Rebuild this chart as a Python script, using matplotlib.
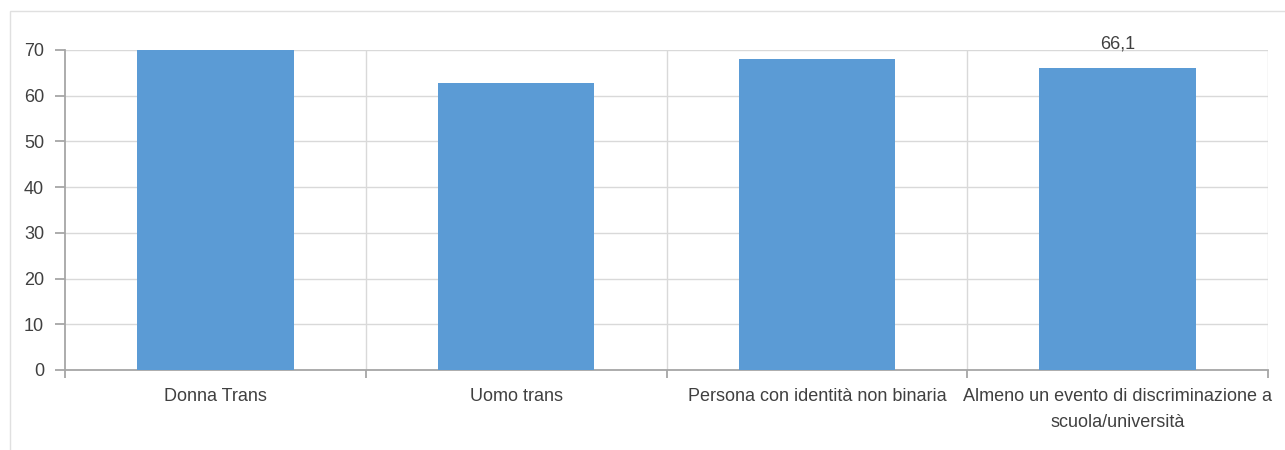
import numpy as np
import matplotlib.pyplot as plt
from matplotlib.patches import Rectangle
from matplotlib.ticker import FixedLocator

categories = ["Donna Trans", "Uomo trans", "Persona con identità non binaria",
              "Almeno un evento di discriminazione a\nscuola/università"]
values = [70.2, 62.8, 68.1, 66.1]
labelled = [False, False, False, True]
yticks = [0, 10, 20, 30, 40, 50, 60, 70]

bar_color = "#5b9bd5"
grid_color = "#d9d9d9"
axis_color = "#a6a6a6"
text_color = "#404040"

plt.rcParams["font.family"] = ["Liberation Sans", "DejaVu Sans"]

fig = plt.figure(figsize=(12.85, 4.5), dpi=100)
W, H = 1285, 450

# light frame round the chart area
fig.patches.append(Rectangle((10 / W, -0.1), 1.1, 1 - 11 / H + 0.1,
                             transform=fig.transFigure, fill=False,
                             edgecolor="#e0e0e0", linewidth=1.0))

ax = fig.add_axes([65 / W, 1 - 370 / H, (1268 - 65) / W, 320 / H])
x = np.arange(len(categories))
bars = ax.bar(x, values, width=0.52, color=bar_color, zorder=3)

ax.set_xlim(-0.5, len(categories) - 0.5)
ax.set_ylim(0, 70)

ax.set_yticks(yticks)
ax.set_yticklabels([str(v) for v in yticks])
ax.set_xticks(x)
ax.set_xticklabels(categories, linespacing=1.7)
ax.xaxis.set_minor_locator(FixedLocator(np.arange(-0.5, len(categories), 1.0)))

ax.grid(axis="y", color=grid_color, linewidth=1.0, zorder=0)
for b in np.arange(0.5, len(categories), 1.0):
    ax.axvline(b, color=grid_color, linewidth=1.0, zorder=0)

for side in ["top", "right"]:
    ax.spines[side].set_visible(False)
for side in ["left", "bottom"]:
    ax.spines[side].set_color(axis_color)
    ax.spines[side].set_linewidth(1.3)

ax.tick_params(axis="y", which="major", length=7, width=1.3, color=axis_color,
               labelsize=13, labelcolor=text_color, pad=8)
ax.tick_params(axis="x", which="major", length=0, labelsize=13,
               labelcolor=text_color, pad=13)
ax.tick_params(axis="x", which="minor", length=6, width=1.3, color=axis_color)

for rect, v, show in zip(bars, values, labelled):
    if show:
        ax.annotate(f"{v:.1f}".replace(".", ","),
                    (rect.get_x() + rect.get_width() / 2, v),
                    xytext=(0, 11), textcoords="offset points",
                    ha="center", va="bottom", fontsize=13, color=text_color)

fig.savefig("out.png", dpi=100)
